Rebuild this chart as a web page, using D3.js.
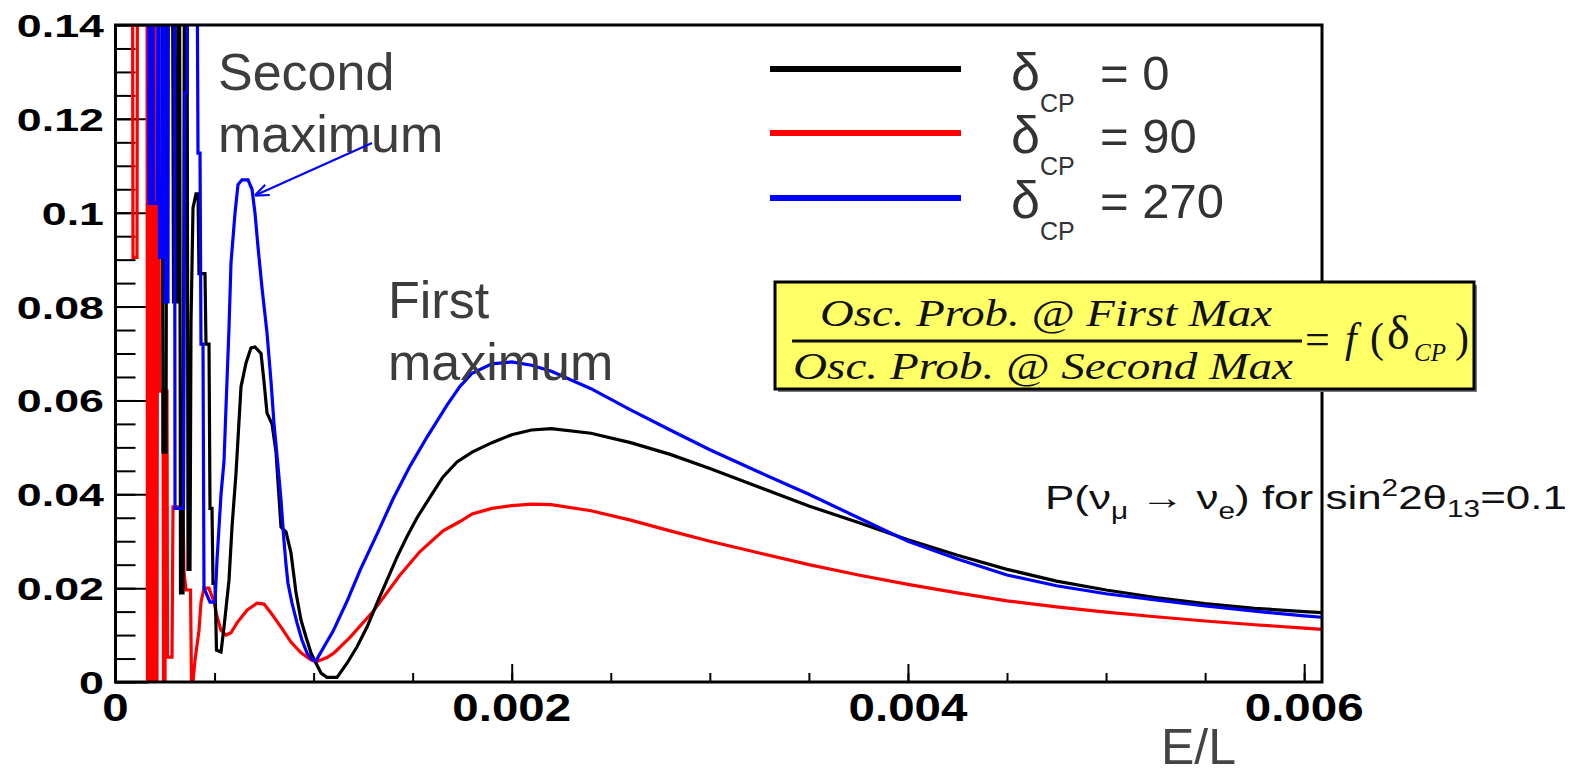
<!DOCTYPE html>
<html>
<head>
<meta charset="utf-8">
<script src="https://cdn.jsdelivr.net/npm/d3@7"></script>
<style>
  body { margin: 0; background: #fff; }
  svg { display: block; }
</style>
</head>
<body>
<svg id="chart" width="1585" height="772"></svg>
<script>
// ---- values ----
var xMajor = [0, 0.002, 0.004, 0.006];
var xLabels = ['0', '0.002', '0.004', '0.006'];
var yMajor = [0, 0.02, 0.04, 0.06, 0.08, 0.1, 0.12, 0.14];
var yLabels = ['0', '0.02', '0.04', '0.06', '0.08', '0.1', '0.12', '0.14'];
var legendNames = ['0', '90', '270'];
var legendColors = ['#000000', '#ff0000', '#0000ff'];

// [E/L, P] for delta_CP = 0
var black = [
  [0.0002347, 0.16], [0.0002398, 0.049], [0.0002549, 0.049], [0.0002600, 0.16],
  [0.0002877, 0.16], [0.0002928, 0.081], [0.0003105, 0.081], [0.0003155, 0.16],
  [0.0003231, 0.16], [0.0003281, 0.019], [0.0003407, 0.019], [0.0003483, 0.16],
  [0.0003609, 0.16], [0.0003660, 0.024], [0.0003761, 0.024], [0.0003811, 0.0765],
  [0.0003912, 0.101], [0.0004064, 0.104], [0.0004165, 0.104], [0.0004215, 0.087],
  [0.0004518, 0.087], [0.0004568, 0.072], [0.0004720, 0.072], [0.0004770, 0.037],
  [0.0004871, 0.037], [0.0004922, 0.021], [0.0005023, 0.021], [0.0005098, 0.0068],
  [0.0005326, 0.0064], [0.0005477, 0.0117], [0.0005729, 0.0217], [0.0005881, 0.033],
  [0.0006083, 0.0445], [0.0006335, 0.0629], [0.0006588, 0.068], [0.0006840, 0.0712],
  [0.0007042, 0.0714], [0.0007345, 0.070], [0.0007496, 0.064], [0.0007648, 0.0573],
  [0.0007900, 0.055], [0.0008102, 0.049], [0.0008354, 0.033], [0.0008607, 0.032],
  [0.0008859, 0.0275], [0.0009112, 0.019], [0.0009364, 0.0132], [0.0009616, 0.0096],
  [0.0009869, 0.0062], [0.0010121, 0.004], [0.0010374, 0.0019], [0.0010677, 0.001],
  [0.0011181, 0.001], [0.0011686, 0.004], [0.0012191, 0.0075], [0.0012696, 0.0117],
  [0.0013201, 0.0168], [0.0013705, 0.0217], [0.0014210, 0.0266], [0.0014715, 0.031],
  [0.0015220, 0.035], [0.0015876, 0.0394], [0.0016532, 0.0437], [0.0017239, 0.0469],
  [0.0018, 0.0490], [0.0019, 0.0510], [0.0020, 0.0527], [0.0021, 0.0537],
  [0.0022, 0.0540], [0.0024, 0.0530], [0.0026, 0.0510], [0.0028, 0.0485],
  [0.0030, 0.0455], [0.00325, 0.0415], [0.0035, 0.0375], [0.00375, 0.0340],
  [0.0040, 0.0303], [0.00425, 0.0270], [0.0045, 0.0240], [0.00475, 0.0215],
  [0.0050, 0.0196], [0.00525, 0.0180], [0.0055, 0.0167], [0.00575, 0.0157],
  [0.0060, 0.0150], [0.00609, 0.0148]
];

// [E/L, P] for delta_CP = 90
var red = [
  [0.0000858, 0.16], [0.0000883, 0.0905], [0.0001085, 0.0905], [0.0001111, 0.16],
  [0.0001590, 0.16], [0.0001615, 0], [0.0001691, 0], [0.0001716, 0.16],
  [0.0001792, 0.16], [0.0001817, 0], [0.0001893, 0], [0.0001918, 0.16],
  [0.0001994, 0.16], [0.0002019, 0], [0.0002095, 0], [0.0002120, 0.102],
  [0.0002196, 0.102], [0.0002221, 0.062], [0.0002398, 0.062], [0.0002423, 0],
  [0.0002499, 0], [0.0002524, 0.062], [0.0002600, 0.062], [0.0002625, 0.0053],
  [0.0002852, 0.0053], [0.0002903, 0.0373], [0.0003407, 0.0373], [0.0003458, 0.0234],
  [0.0003559, 0.0196], [0.0003786, 0.0196], [0.0003836, 0], [0.0003912, 0],
  [0.0004013, 0.0047], [0.0004215, 0.011], [0.0004316, 0.017], [0.0004467, 0.020],
  [0.0004720, 0.020], [0.0004972, 0.017], [0.0005124, 0.014], [0.0005326, 0.011],
  [0.0005578, 0.010], [0.0005830, 0.0105], [0.0006133, 0.0126], [0.0006638, 0.0153],
  [0.0007143, 0.0168], [0.0007496, 0.0166], [0.0007850, 0.0147], [0.0008354, 0.0117],
  [0.0008859, 0.0085], [0.0009364, 0.0062], [0.0009869, 0.0047], [0.0010121, 0.0043],
  [0.0010677, 0.0052], [0.0011030, 0.0062], [0.0011838, 0.0095], [0.0012999, 0.0150],
  [0.0014362, 0.0228], [0.0015371, 0.0278], [0.0016532, 0.0322], [0.0017390, 0.0342],
  [0.0018, 0.0358], [0.0019, 0.0370], [0.0020, 0.0376], [0.0021, 0.0379],
  [0.0022, 0.0378], [0.0024, 0.0365], [0.0026, 0.0345], [0.0028, 0.0322],
  [0.0030, 0.0300], [0.00325, 0.0275], [0.0035, 0.0250], [0.00375, 0.0228],
  [0.0040, 0.0208], [0.00425, 0.0190], [0.0045, 0.0173], [0.00475, 0.0160],
  [0.0050, 0.0149], [0.00525, 0.0139], [0.0055, 0.0130], [0.00575, 0.0122],
  [0.0060, 0.0115], [0.00609, 0.0112]
];

// [E/L, P] for delta_CP = 270
var blue = [
  [0.0001666, 0.16], [0.0001691, 0.102], [0.0001792, 0.102], [0.0001817, 0.16],
  [0.0001893, 0.16], [0.0001918, 0.102], [0.0002120, 0.102], [0.0002145, 0.16],
  [0.0002196, 0.16], [0.0002221, 0.0905], [0.0002373, 0.0905], [0.0002398, 0.16],
  [0.0002474, 0.16], [0.0002499, 0.081], [0.0002650, 0.081], [0.0002675, 0.16],
  [0.0002978, 0.16], [0.0003004, 0.037], [0.0003433, 0.037], [0.0003508, 0.1256],
  [0.0003609, 0.1256], [0.0003660, 0.16], [0.0004114, 0.16], [0.0004165, 0.1127],
  [0.0004266, 0.1127], [0.0004316, 0.072], [0.0004417, 0.072], [0.0004467, 0.020],
  [0.0004770, 0.017], [0.0005023, 0.017], [0.0005124, 0.026], [0.0005326, 0.040],
  [0.0005477, 0.047], [0.0005578, 0.0586], [0.0005729, 0.0754], [0.0005830, 0.0893],
  [0.0006032, 0.0999], [0.0006184, 0.106], [0.0006386, 0.107], [0.0006689, 0.107],
  [0.0006891, 0.105], [0.0007042, 0.0999], [0.0007193, 0.0927], [0.0007395, 0.084],
  [0.0007648, 0.0744], [0.0007850, 0.064], [0.0008001, 0.055], [0.0008203, 0.046],
  [0.0008354, 0.0388], [0.0008506, 0.030], [0.0008607, 0.025], [0.0008708, 0.021],
  [0.0008910, 0.0168], [0.0009162, 0.0126], [0.0009415, 0.0089], [0.0009667, 0.0062],
  [0.0009919, 0.0048], [0.0010121, 0.0045], [0.0010525, 0.0075], [0.0010979, 0.0108],
  [0.0011686, 0.0172], [0.0012342, 0.0238], [0.0013201, 0.0315], [0.0014008, 0.0390],
  [0.0014866, 0.0460], [0.0015725, 0.0522], [0.0016734, 0.0590], [0.0017390, 0.0630],
  [0.0018, 0.0658], [0.0019, 0.0678], [0.0020, 0.0682], [0.0021, 0.0675],
  [0.0022, 0.0662], [0.0024, 0.0625], [0.0026, 0.0580], [0.0028, 0.0537],
  [0.0030, 0.0495], [0.00325, 0.0447], [0.0035, 0.0400], [0.00375, 0.0350],
  [0.0040, 0.0300], [0.00425, 0.0262], [0.0045, 0.0228], [0.00475, 0.0205],
  [0.0050, 0.0188], [0.00525, 0.0175], [0.0055, 0.0162], [0.00575, 0.0151],
  [0.0060, 0.0141], [0.00609, 0.0138]
];

var svg = d3.select('#chart');
var plotL = 115.5, plotR = 1322, plotT = 25, plotB = 682;

var x = d3.scaleLinear().domain([0, 0.00609]).range([plotL, plotR]);
var y = d3.scaleLinear().domain([0, 0.14]).range([plotB, plotT]);

svg.append('rect').attr('width', 1585).attr('height', 772).attr('fill', '#fff');

svg.append('clipPath').attr('id', 'plotclip')
  .append('rect').attr('x', plotL).attr('y', plotT)
  .attr('width', plotR - plotL).attr('height', plotB - plotT);

// ---- ticks ----
var xMinorAxis = d3.axisTop(x).tickValues(d3.range(0, 0.00601, 0.0005)).tickSize(9).tickFormat('');
var xMajorAxis = d3.axisTop(x).tickValues(xMajor).tickSize(18).tickFormat('');
var yMinorAxis = d3.axisRight(y).tickValues(d3.range(0, 0.14001, 0.005)).tickSize(20).tickFormat('');
var yMajorAxis = d3.axisRight(y).tickValues(yMajor).tickSize(33).tickFormat('');

[xMinorAxis, xMajorAxis].forEach(function (ax) {
  svg.append('g').attr('transform', 'translate(0,' + plotB + ')').call(ax)
    .call(function (g) { g.select('.domain').remove(); })
    .selectAll('line').attr('stroke', '#000').attr('stroke-width', 2);
});
[yMinorAxis, yMajorAxis].forEach(function (ax) {
  svg.append('g').attr('transform', 'translate(' + plotL + ',0)').call(ax)
    .call(function (g) { g.select('.domain').remove(); })
    .selectAll('line').attr('stroke', '#000').attr('stroke-width', 2);
});

// ---- curves ----
var line = d3.line().x(function (d) { return x(d[0]); }).y(function (d) { return y(d[1]); });
var plot = svg.append('g').attr('clip-path', 'url(#plotclip)');
[[red, '#ff0000'], [black, '#000000'], [blue, '#0000ff']].forEach(function (s) {
  plot.append('path').datum(s[0]).attr('d', line)
    .attr('fill', 'none').attr('stroke', s[1]).attr('stroke-width', 3.2);
});

// frame
svg.append('rect').attr('x', plotL).attr('y', plotT)
  .attr('width', plotR - plotL).attr('height', plotB - plotT)
  .attr('fill', 'none').attr('stroke', '#000').attr('stroke-width', 3);

// ---- tick labels (stretched like the original canvas) ----
svg.append('g').selectAll('text').data(xMajor).enter().append('text')
  .attr('transform', function (d) { return 'translate(' + x(d) + ',721) scale(1.25,1)'; })
  .attr('text-anchor', 'middle')
  .attr('font-family', 'Liberation Sans, Arial, sans-serif')
  .attr('font-weight', 'bold').attr('font-size', 38)
  .text(function (d, i) { return xLabels[i]; });

svg.append('g').selectAll('text').data(yMajor).enter().append('text')
  .attr('transform', function (d) { return 'translate(104,' + (y(d) + 12) + ') scale(1.4,1)'; })
  .attr('text-anchor', 'end')
  .attr('font-family', 'Liberation Sans, Arial, sans-serif')
  .attr('font-weight', 'bold').attr('font-size', 32)
  .text(function (d, i) { return yLabels[i]; });

svg.append('text').attr('x', 1161).attr('y', 764)
  .attr('font-family', 'Liberation Sans, Arial, sans-serif')
  .attr('font-size', 50).attr('fill', '#444').text('E/L');

// ---- annotations ----
var note = svg.append('g').attr('font-family', 'Liberation Sans, Arial, sans-serif')
  .attr('font-size', 52).attr('fill', '#3d3d3d');
note.append('text').attr('x', 218).attr('y', 90).text('Second');
note.append('text').attr('x', 218).attr('y', 152).text('maximum');
note.append('text').attr('x', 388).attr('y', 318).text('First');
note.append('text').attr('x', 388).attr('y', 380).text('maximum');

svg.append('defs').append('marker').attr('id', 'arrow')
  .attr('viewBox', '0 0 10 10').attr('refX', 9).attr('refY', 5)
  .attr('markerWidth', 7).attr('markerHeight', 7).attr('orient', 'auto')
  .append('path').attr('d', 'M0,1 L10,5 L0,9').attr('fill', 'none')
  .attr('stroke', '#0000ff').attr('stroke-width', 1.5);
svg.append('line').attr('x1', 372).attr('y1', 143).attr('x2', 256).attr('y2', 195)
  .attr('stroke', '#0000ff').attr('stroke-width', 2).attr('marker-end', 'url(#arrow)');

// ---- legend ----
var legend = svg.append('g').attr('font-family', 'Liberation Sans, Arial, sans-serif').attr('fill', '#333');
legendNames.forEach(function (name, i) {
  var ly = [69, 133, 198][i];
  var by = [90, 153, 218][i];
  legend.append('line').attr('x1', 770).attr('x2', 961).attr('y1', ly).attr('y2', ly)
    .attr('stroke', legendColors[i]).attr('stroke-width', 6);
  legend.append('text').attr('x', 1011).attr('y', by).attr('font-size', 52).text('\u03b4');
  legend.append('text').attr('x', 1040).attr('y', by + 22).attr('font-size', 25).text('CP');
  legend.append('text').attr('x', 1100).attr('y', by).attr('font-size', 49).text('= ' + name);
});

// ---- formula box ----
var box = svg.append('g');
box.append('rect').attr('x', 778).attr('y', 285).attr('width', 699).attr('height', 107).attr('fill', '#777');
box.append('rect').attr('x', 775).attr('y', 282).attr('width', 699).attr('height', 107)
  .attr('fill', '#ffff66').attr('stroke', '#000').attr('stroke-width', 3);
var serif = 'Liberation Serif, Times New Roman, serif';
box.append('text').attr('x', 820).attr('y', 326).attr('font-family', serif).attr('font-style', 'italic')
  .attr('font-size', 37).attr('textLength', 452).attr('lengthAdjust', 'spacingAndGlyphs')
  .attr('fill', '#111').text('Osc. Prob. @ First Max');
box.append('text').attr('x', 793).attr('y', 379).attr('font-family', serif).attr('font-style', 'italic')
  .attr('font-size', 37).attr('textLength', 500).attr('lengthAdjust', 'spacingAndGlyphs')
  .attr('fill', '#111').text('Osc. Prob. @ Second Max');
box.append('line').attr('x1', 792).attr('x2', 1302).attr('y1', 341).attr('y2', 341)
  .attr('stroke', '#111').attr('stroke-width', 3);
var rhs = box.append('g').attr('font-family', serif).attr('fill', '#111');
rhs.append('text').attr('x', 1305).attr('y', 354).attr('font-size', 44).text('=');
rhs.append('text').attr('x', 1345).attr('y', 352).attr('font-size', 42).attr('font-style', 'italic').text('f');
rhs.append('text').attr('x', 1370).attr('y', 352).attr('font-size', 42).text('(');
rhs.append('text').attr('x', 1387).attr('y', 349).attr('font-size', 48).text('\u03b4');
rhs.append('text').attr('x', 1414).attr('y', 361).attr('font-size', 25).attr('font-style', 'italic').text('CP');
rhs.append('text').attr('x', 1455).attr('y', 352).attr('font-size', 42).text(')');

// ---- probability caption ----
var cap = svg.append('text').attr('font-family', 'Liberation Sans, Arial, sans-serif')
  .attr('font-size', 34).attr('fill', '#111');
cap.append('tspan').text('P(\u03bd');
cap.append('tspan').attr('font-size', 23).attr('dy', 10).text('\u03bc');
cap.append('tspan').attr('dy', -10).text(' \u2192 \u03bd');
cap.append('tspan').attr('font-size', 23).attr('dy', 10).text('e');
cap.append('tspan').attr('dy', -10).text(') for sin');
cap.append('tspan').attr('font-size', 23).attr('dy', -13).text('2');
cap.append('tspan').attr('dy', 13).text('2\u03b8');
cap.append('tspan').attr('font-size', 23).attr('dy', 8).text('13');
cap.append('tspan').attr('dy', -8).text('=0.1');
var capW = cap.node().getBBox().width;
cap.attr('transform', 'translate(1045,509) scale(' + (522 / capW) + ',1)');
</script>
</body>
</html>
